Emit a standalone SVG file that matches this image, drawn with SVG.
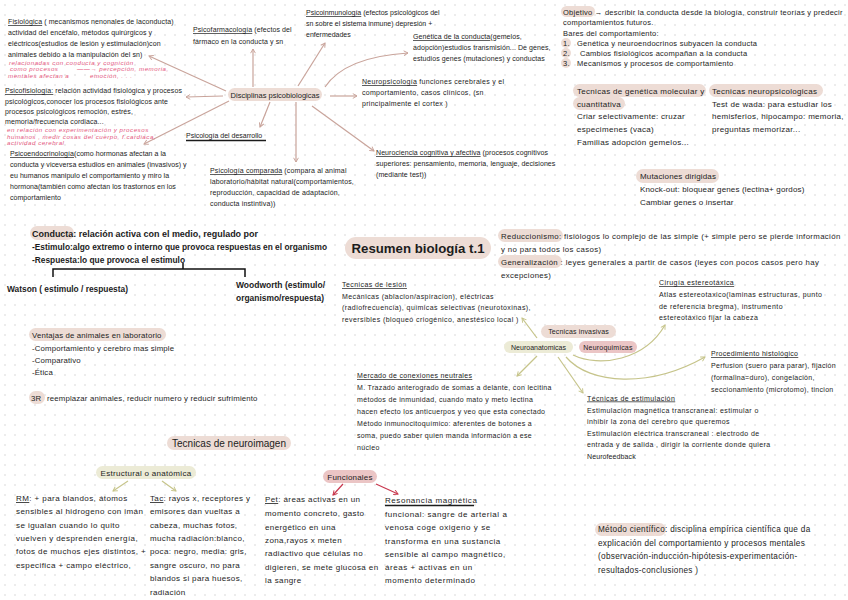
<svg xmlns="http://www.w3.org/2000/svg" width="848" height="600" viewBox="0 0 848 600">
<defs>
<pattern id="grid" width="10" height="10" patternUnits="userSpaceOnUse"><circle cx="5" cy="5" r="0.7" fill="#cbcbcb"/></pattern>
<marker id="ahB" viewBox="0 0 10 10" refX="8" refY="5" markerWidth="5" markerHeight="5" orient="auto"><path d="M1,1 L8,5 L1,9" fill="none" stroke="#c9a49b" stroke-width="1.6"/></marker>
<marker id="ahO" viewBox="0 0 10 10" refX="8" refY="5" markerWidth="5" markerHeight="5" orient="auto"><path d="M1,1 L8,5 L1,9" fill="none" stroke="#c6c48a" stroke-width="1.6"/></marker>
<marker id="ahR" viewBox="0 0 10 10" refX="8" refY="5" markerWidth="5" markerHeight="5" orient="auto"><path d="M1,1 L8,5 L1,9" fill="none" stroke="#c8374e" stroke-width="1.6"/></marker>
<style>
text{font-family:"Liberation Sans",Arial,Helvetica,sans-serif;fill:#1c1c1c}
.s7{font-size:7px}
.s75{font-size:7.5px}
.s8{font-size:8px}
.b{font-weight:bold}
.u{text-decoration:underline}
.pk{font-size:6.2px;font-style:italic;fill:#e4557c;letter-spacing:0.5px}
.c{text-anchor:middle}
.pb{fill:#eddcd5}
.pg{fill:#ecebd6}
.pp{fill:#ebc5c5}
.cb{fill:none;stroke:#c9a49b;stroke-width:1.2;marker-end:url(#ahB)}
.co{fill:none;stroke:#c6c48a;stroke-width:1.2;marker-end:url(#ahO)}
.cr{fill:none;stroke:#c8374e;stroke-width:1.2;marker-end:url(#ahR)}
.ul{stroke:#1c1c1c;stroke-width:1.4}
</style>
</defs>
<rect width="848" height="600" fill="#ffffff"/>
<rect width="848" height="600" fill="url(#grid)"/>

<g id="connectors">
<path class="cb" d="M226,91 L149,56"/>
<path class="cb" d="M223,96 L186,97"/>
<path class="cb" d="M229,101 L144,144"/>
<path class="cb" d="M253,87 L253,49"/>
<path class="cb" d="M270,102 L260,127"/>
<path class="cb" d="M298,86 L325,43"/>
<path class="cb" d="M325,87 Q345,57 408,53"/>
<path class="cb" d="M330,96 L357,96"/>
<path class="cb" d="M312,106 L374,151"/>
<path class="cb" d="M296,102 L296,162"/>
<path class="co" d="M537,338 L522,318"/>
<path class="co" d="M537,356 L517,376"/>
<path class="co" d="M558,357 L583,393"/>
<path class="co" d="M573,355 C600,368 645,360 665,325"/>
<path class="co" d="M566,357 C590,385 650,388 705,357"/>
<path class="co" d="M128,481 L113,491"/>
<path class="co" d="M162,481 L176,491"/>
<path class="cr" d="M343,484 L333,495"/>
<path class="cr" d="M376,484 L398,494"/>
<path d="M53,277 L53,269 L245,269 L245,277 M183,269 L183,263" fill="none" stroke="#111" stroke-width="1.5"/>
</g>

<g id="fisiologica" letter-spacing="0.1">
<text class="s7" x="8" y="24"><tspan class="u">Fisiológica</tspan> ( mecanismos nenonales de laconducta)</text>
<text class="s7" x="8" y="35">actividad del encéfalo, métodos quirúrgicos y</text>
<text class="s7" x="8" y="46">eléctricos(estudios de lesión y estimulación)con</text>
<text class="s7" x="8" y="57">animales debido a la manipulación del sn)</text>
<text class="pk" x="9" y="64.5">relacionadas con conducta y cognición</text>
<text class="pk" x="10" y="71">como procesos</text>
<text class="pk" x="77" y="71">——→ percepción, memoria,</text>
<text class="pk" x="8" y="78">mentales afectan a</text>
<text class="pk" x="90" y="78">emoción, . . .</text>
</g>

<g id="psicofisiologia" letter-spacing="0.1">
<text class="s7" x="5" y="93"><tspan class="u">Psicofisiología:</tspan> relación actividad fisiológica y procesos</text>
<text class="s7" x="5" y="103.5">psicológicos,conocer los procesos fisiológicos ante</text>
<text class="s7" x="5" y="114">procesos psicológicos remoción, estrés,</text>
<text class="s7" x="5" y="124">memoria/frecuencia cordiaca...</text>
<text class="pk" x="7" y="132" letter-spacing="0.6">en relación con experimentación y procesos</text>
<text class="pk" x="7" y="138.5" letter-spacing="0.6">humanos , medir cosas del cuerpo, f.cardiaca,</text>
<text class="pk" x="7" y="145" letter-spacing="0.6">actividad cerebral</text>
</g>

<g id="psicoendocrinologia" letter-spacing="0.05">
<text class="s7" x="10" y="156"><tspan class="u">Psicoendocrinología</tspan>(como hormonas afectan a la</text>
<text class="s7" x="10" y="167">conducta y viceversa estudios en animales (invasivos) y</text>
<text class="s7" x="10" y="178">eu humanos manipulo el comportamiento y miro la</text>
<text class="s7" x="10" y="189">hormona(también como afectan los trastornos en los</text>
<text class="s7" x="10" y="200">comportamiento</text>
</g>

<g id="disciplinas">
<rect class="pb" x="228" y="88" width="94" height="13" rx="6.5"/>
<text class="s75 c" x="275" y="97.5">Disciplinas psicobiologicas</text>
</g>

<g id="psicofarmacologia" letter-spacing="0.1">
<text class="s7" x="193" y="32"><tspan class="u">Psicofarmacología</tspan> (efectos del</text>
<text class="s7" x="193" y="44">fármaco en la conducta y sn</text>
</g>

<g id="desarrollo">
<text class="s7" x="186" y="138">Psicología del desarrollo</text>
<line class="ul" x1="186" y1="140.5" x2="266" y2="140.5"/>
</g>

<g id="psicoinmunologia">
<text class="s7" x="306" y="15"><tspan class="u">Psicoinmunología</tspan> (efectos psicológicos del</text>
<text class="s7" x="306" y="26">sn sobre el sistema inmune) depresión +</text>
<text class="s7" x="306" y="37">enfermedades</text>
</g>

<g id="genetica" letter-spacing="0.08">
<text class="s7" x="413" y="39"><tspan class="u">Genética de la conducta</tspan>(gemelos,</text>
<text class="s7" x="413" y="50">adopción)estudios transmisión... De genes,</text>
<text class="s7" x="413" y="61">estudios genes (mutaciones) y conductas</text>
</g>

<g id="neuropsicologia" letter-spacing="0.3">
<text class="s7" x="362" y="84"><tspan class="u">Neuropsicología</tspan> funciones cerebrales y el</text>
<text class="s7" x="362" y="95">comportamiento, casos clínicos, (sn</text>
<text class="s7" x="362" y="106">principalmente el cortex )</text>
</g>

<g id="neurociencia" letter-spacing="0.08">
<text class="s7" x="376" y="155"><tspan class="u">Neurociencia cognitiva y afectiva</tspan> (procesos cognitivos</text>
<text class="s7" x="376" y="166">superiores: pensamiento, memoria, lenguaje, decisiones</text>
<text class="s7" x="376" y="177">(mediante test))</text>
</g>

<g id="comparada" letter-spacing="0.15">
<text class="s7" x="210" y="173"><tspan class="u">Psicología comparada</tspan> (compara al animal</text>
<text class="s7" x="210" y="184">laboratorio/hábitat natural(comportamientos,</text>
<text class="s7" x="210" y="195">reproducción, capacidad de adaptación,</text>
<text class="s7" x="210" y="206">conducta instintiva))</text>
</g>

<g id="objetivo" letter-spacing="0.25">
<rect class="pb" x="561" y="6" width="34" height="11" rx="5.5"/>
<rect class="pb" x="561" y="38" width="10" height="10" rx="5"/>
<rect class="pb" x="561" y="48" width="10" height="10" rx="5"/>
<rect class="pb" x="561" y="58" width="10" height="10" rx="5"/>
<text class="s75" x="563" y="14.5">Objetivo → describir la conducta desde la biología, construir teorías y predecir</text>
<text class="s75" x="563" y="25">comportamientos futuros.</text>
<text class="s75" x="563" y="35.5">Bares del comportamiento:</text>
<text class="s75" x="563" y="46">1.</text><text class="s75" x="577" y="46">Genética y neuroendocrinos subyacen la conducta</text>
<text class="s75" x="563" y="56">2.</text><text class="s75" x="580" y="56">Cambios fisiológicos acompañan a la conducta</text>
<text class="s75" x="563" y="66">3.</text><text class="s75" x="577" y="66">Mecanismos y procesos de comportamiento</text>
</g>

<g id="tec-genetica" letter-spacing="0.3">
<rect class="pb" x="573" y="84" width="133" height="13" rx="6.5"/>
<rect class="pb" x="573" y="97" width="52" height="13" rx="6.5"/>
<text class="s8" x="577" y="93.5">Tecnicas de genética molecular y</text>
<text class="s8" x="577" y="106.5">cuantitativa</text>
<text class="s8" x="577" y="118.5">Criar selectivamente: cruzar</text>
<text class="s8" x="577" y="131.5">especimenes (vaca)</text>
<text class="s8" x="577" y="144.5">Familias adopción gemelos...</text>
</g>

<g id="tec-neuropsico" letter-spacing="0.3">
<rect class="pb" x="709" y="84" width="114" height="13" rx="6.5"/>
<text class="s8" x="712" y="93.5">Tecnicas neuropsicologicas</text>
<text class="s8" x="712" y="106.5">Test de wada: para estudiar los</text>
<text class="s8" x="712" y="119">hemisferios, hipocampo: memoria,</text>
<text class="s8" x="712" y="131.5">preguntas memorizar...</text>
</g>

<g id="mutaciones" letter-spacing="0.16">
<rect class="pb" x="636" y="169" width="83" height="14" rx="7"/>
<text class="s8" x="640" y="178.5">Mutaciones dirigidas</text>
<text class="s8" x="640" y="191.5">Knock-out: bloquear genes (lectina+ gordos)</text>
<text class="s8" x="640" y="204.5">Cambiar genes o insertar</text>
</g>

<g id="conducta">
<rect class="pb" x="30" y="226" width="44" height="14" rx="7"/>
<text class="b" font-size="8.8" x="32" y="236.5" textLength="226" lengthAdjust="spacingAndGlyphs">Conducta: relación activa con el medio, regulado por</text>
<text class="b" font-size="8.8" x="32" y="249.5" textLength="295" lengthAdjust="spacingAndGlyphs">-Estimulo:algo extremo o interno que provoca respuestas en el organismo</text>
<text class="b" font-size="8.8" x="32" y="262.5" textLength="153" lengthAdjust="spacingAndGlyphs">-Respuesta:lo que provoca el estimulo</text>
</g>

<g id="watson">
<text class="b" font-size="8.8" x="7" y="292" textLength="121" lengthAdjust="spacingAndGlyphs">Watson ( estimulo / respuesta)</text>
</g>

<g id="woodworth">
<text class="b" font-size="8.8" x="236" y="288" textLength="89" lengthAdjust="spacingAndGlyphs">Woodworth (estimulo/</text>
<text class="b" font-size="8.8" x="236" y="301" textLength="88" lengthAdjust="spacingAndGlyphs">organismo/respuesta)</text>
</g>

<g id="resumen">
<rect class="pb" x="345" y="237" width="146" height="22" rx="11"/>
<text class="b c" font-size="13.5" x="418" y="253" textLength="133" lengthAdjust="spacingAndGlyphs">Resumen biología t.1</text>
</g>

<g id="reduccionismo" letter-spacing="0.36">
<rect class="pb" x="498" y="229" width="65" height="13" rx="6.5"/>
<rect class="pb" x="498" y="255" width="64" height="13" rx="6.5"/>
<text font-size="7.8" x="501" y="238.5">Reduccionismo: fisiólogos lo complejo de las simple (+ simple pero se pierde información</text>
<text font-size="7.8" x="501" y="251.5">y no para todos los casos)</text>
<text font-size="7.8" x="501" y="264.5">Generalización : leyes generales a partir de casos (leyes con pocos casos pero hay</text>
<text font-size="7.8" x="501" y="277.5">excepciones)</text>
</g>

<g id="lesion" letter-spacing="0.43">
<text class="s7" x="342" y="287"><tspan class="u">Tecnicas de lesión</tspan></text>
<text class="s7" x="342" y="299">Mecánicas (ablacion/aspiracion), eléctricas</text>
<text class="s7" x="342" y="310">(radiofrecuencia), químicas selectivas (neurotoxinas),</text>
<text class="s7" x="342" y="322">reversibles (bloqueó criogénico, anestésico local )</text>
</g>

<g id="cirugia" letter-spacing="0.43">
<text class="s7" x="659" y="285"><tspan class="u">Cirugía estereotáxica</tspan></text>
<text class="s7" x="659" y="297">Atlas estereotaxico(laminas estructuras, punto</text>
<text class="s7" x="659" y="308.5">de referencia bregma), instrumento</text>
<text class="s7" x="659" y="320">estereotáxico fijar la cabeza</text>
</g>

<g id="invasivas" letter-spacing="0.15">
<rect class="pb" x="541" y="325" width="75" height="13" rx="6.5"/>
<text class="s7 c" x="578.5" y="334">Tecnicas invasivas</text>
</g>

<g id="neuroanatomicas">
<rect class="pg" x="504" y="341" width="69" height="12" rx="6"/>
<text class="s7 c" x="538.5" y="349.5">Neuroanatomicas</text>
</g>

<g id="neuroquimicas" letter-spacing="0.2">
<rect class="pp" x="579" y="341" width="58" height="12" rx="6"/>
<text class="s7 c" x="608" y="349.5">Neuroquimicas</text>
</g>

<g id="mercado" letter-spacing="0.33">
<text class="s7" x="357" y="378"><tspan class="u">Mercado de conexiones neutrales</tspan></text>
<text class="s7" x="357" y="390">M. Trazado anterogrado de somas a delante, con lecitina</text>
<text class="s7" x="357" y="402">métodos de inmunidad, cuando mato y meto lectina</text>
<text class="s7" x="357" y="414">hacen efecto los anticuerpos y veo que esta conectado</text>
<text class="s7" x="357" y="426">Método inmunocitoquímico: aferentes de botones a</text>
<text class="s7" x="357" y="438">soma, puedo saber quien manda información a ese</text>
<text class="s7" x="357" y="450">núcleo</text>
</g>

<g id="histologico" letter-spacing="0.3">
<text class="s7" x="711" y="356"><tspan class="u">Procedimiento histológico</tspan></text>
<text class="s7" x="711" y="368">Perfusion (suero para parar), fijación</text>
<text class="s7" x="711" y="380">(formalina=duro), congelación,</text>
<text class="s7" x="711" y="392">seccionamiento (microtomo), tincion</text>
</g>

<g id="estimulacion" letter-spacing="0.4">
<text class="s7" x="587" y="400.5"><tspan class="u">Técnicas de estimulación</tspan></text>
<text class="s7" x="587" y="412.5">Estimulación magnética transcraneal: estimular o</text>
<text class="s7" x="587" y="424">inhibir la zona del cerebro que queremos</text>
<text class="s7" x="587" y="435.5">Estimulación eléctrica transcraneal : electrodo de</text>
<text class="s7" x="587" y="447">entrada y de salida , dirigir la corriente donde quiera</text>
<text class="s7" x="587" y="458.5" letter-spacing="0.1">Neurofeedback</text>
</g>

<g id="ventajas" letter-spacing="0.16">
<rect class="pb" x="29" y="328" width="137" height="13" rx="6.5"/>
<text font-size="7.8" x="32" y="337.5">Ventajas de animales en laboratorio</text>
<text font-size="7.8" x="32" y="350.5">-Comportamiento y cerebro mas simple</text>
<text font-size="7.8" x="32" y="362.5">-Comparativo</text>
<text font-size="7.8" x="32" y="374.5">-Ética</text>
</g>

<g id="tres-r" letter-spacing="0.16">
<rect class="pb" x="29" y="391" width="16" height="13" rx="6.5"/>
<text font-size="7.8" x="31" y="400.5">3R</text>
<text font-size="7.8" x="47" y="400.5">reemplazar animales, reducir numero y reducir sufrimiento</text>
</g>

<g id="neuroimagen">
<rect class="pb" x="167" y="436" width="124" height="14" rx="7"/>
<text class="c" font-size="10" x="229" y="446.5">Tecnicas de neuroimagen</text>
</g>

<g id="estructural" letter-spacing="0.3">
<rect class="pg" x="96" y="466" width="100" height="13" rx="6.5"/>
<text class="s8 c" x="146" y="475.5">Estructural o anatómica</text>
</g>

<g id="rm" letter-spacing="0.42">
<text class="s8" x="16" y="501"><tspan class="u">RM</tspan>: + para blandos, átomos</text>
<text class="s8" x="16" y="514">sensibles al hidrogeno con imán</text>
<text class="s8" x="16" y="528">se igualan cuando lo quito</text>
<text class="s8" x="16" y="541">vuelven y desprenden energía,</text>
<text class="s8" x="16" y="554">fotos de muchos ejes distintos, +</text>
<text class="s8" x="16" y="568">especifica + campo eléctrico,</text>
</g>

<g id="tac" letter-spacing="0.35">
<text class="s8" x="150" y="501"><tspan class="u">Tac</tspan>: rayos x, receptores y</text>
<text class="s8" x="150" y="514">emisores dan vueltas a</text>
<text class="s8" x="150" y="528">cabeza, muchas fotos,</text>
<text class="s8" x="150" y="541">mucha radiación:blanco,</text>
<text class="s8" x="150" y="554">poca: negro, media: gris,</text>
<text class="s8" x="150" y="568">sangre oscuro, no para</text>
<text class="s8" x="150" y="581">blandos si para huesos,</text>
<text class="s8" x="150" y="595">radiación</text>
</g>

<g id="funcionales" letter-spacing="0.2">
<rect class="pp" x="323" y="470" width="54" height="13" rx="6.5"/>
<text class="s8 c" x="350" y="479.5">Funcionales</text>
</g>

<g id="pet" letter-spacing="0.4">
<text class="s8" x="265" y="502"><tspan class="u">Pet</tspan>: áreas activas en un</text>
<text class="s8" x="265" y="516">momento concreto, gasto</text>
<text class="s8" x="265" y="530">energético en una</text>
<text class="s8" x="265" y="543">zona,rayos x meten</text>
<text class="s8" x="265" y="556">radiactivo que células no</text>
<text class="s8" x="265" y="570">digieren, se mete glucosa en</text>
<text class="s8" x="265" y="583">la sangre</text>
</g>

<g id="resonancia" letter-spacing="0.55">
<text class="s8" x="385" y="503">Resonancia magnética</text>
<line class="ul" x1="385" y1="505.5" x2="474" y2="505.5"/>
<text class="s8" x="385" y="517">funcional: sangre de arterial a</text>
<text class="s8" x="385" y="530">venosa coge oxigeno y se</text>
<text class="s8" x="385" y="544">transforma en una sustancia</text>
<text class="s8" x="385" y="557">sensible al campo magnético,</text>
<text class="s8" x="385" y="570">áreas + activas en un</text>
<text class="s8" x="385" y="583">momento determinado</text>
</g>

<g id="metodo" letter-spacing="0.3">
<rect class="pb" x="595" y="523" width="71" height="13" rx="6.5"/>
<text font-size="8.2" x="598" y="532">Método científico: disciplina empírica científica que da</text>
<text font-size="8.2" x="598" y="545.5">explicación del comportamiento y procesos mentales</text>
<text font-size="8.2" x="598" y="559">(observación-inducción-hipótesis-experimentación-</text>
<text font-size="8.2" x="598" y="573">resultados-conclusiones )</text>
</g>
</svg>
